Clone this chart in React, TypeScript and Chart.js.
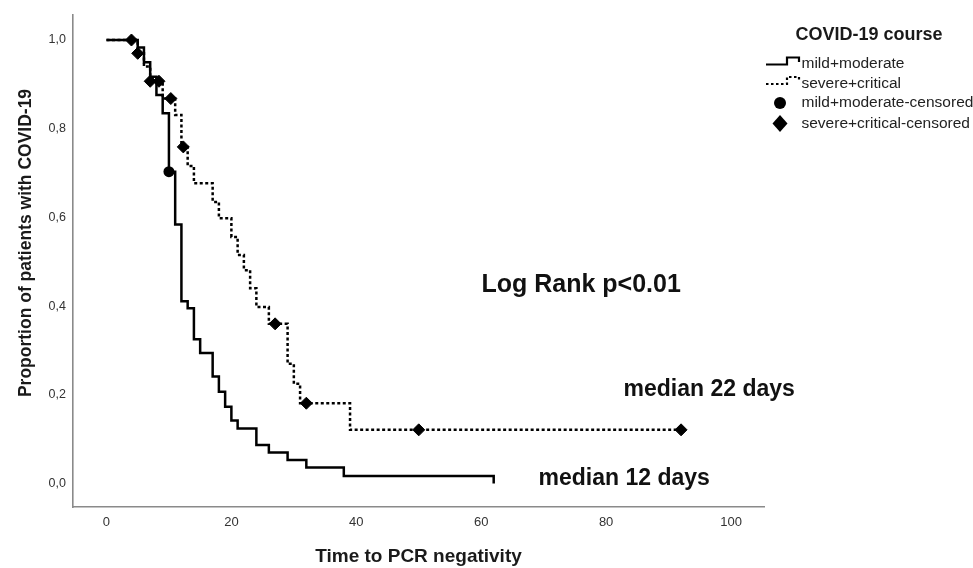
import React, { useEffect, useRef } from 'react';
import { Chart, registerables } from 'chart.js';

Chart.register(...registerables);

// ---- data ----
const mildTimes = [0, 5, 6, 7, 8, 9, 10, 11, 12, 13, 14, 15, 17, 18, 19, 20, 21, 24, 26, 29, 32, 38, 62];
const mildSurvival = [1.0, 0.983, 0.95, 0.917, 0.876, 0.835, 0.703, 0.584, 0.411, 0.395, 0.325, 0.294, 0.241, 0.207, 0.173, 0.142, 0.124, 0.087, 0.07, 0.053, 0.036, 0.017, 0.0];
const mildCensorTimes = [10];
const mildCensorSurvival = [0.703];

const severeTimes = [0, 5, 6, 7, 9, 11, 12, 13, 14, 17, 18, 20, 21, 22, 23, 24, 26, 29, 30, 31, 39, 92];
const severeSurvival = [1.0, 0.97, 0.94, 0.907, 0.868, 0.831, 0.759, 0.716, 0.677, 0.635, 0.598, 0.556, 0.515, 0.481, 0.44, 0.398, 0.36, 0.27, 0.225, 0.181, 0.121, 0.121];
const severeCensorTimes = [4, 5, 7, 8.4, 10.3, 12.3, 27, 32, 50, 92];
const severeCensorSurvival = [1.0, 0.97, 0.907, 0.907, 0.868, 0.759, 0.36, 0.181, 0.121, 0.121];

const xTicks = [0, 20, 40, 60, 80, 100];
const yTicks = [0, 0.2, 0.4, 0.6, 0.8, 1.0];
const yTickLabels = ['0,0', '0,2', '0,4', '0,6', '0,8', '1,0'];

const legendTitle = 'COVID-19 course';
const legendLabels = ['mild+moderate', 'severe+critical', 'mild+moderate-censored', 'severe+critical-censored'];
const xTitle = 'Time to PCR negativity';
const yTitle = 'Proportion of patients with COVID-19';
const logRankText = 'Log Rank p<0.01';
const medianSevereText = 'median 22 days';
const medianMildText = 'median 12 days';

const FONT = '"Liberation Sans", Arial, Helvetica, sans-serif';

const toPoints = (xs: number[], ys: number[]) => xs.map((x, i) => ({ x, y: ys[i] }));

const overlayPlugin = {
  id: 'overlay',
  afterDraw(chart: any) {
    const ctx = chart.ctx as CanvasRenderingContext2D;
    ctx.save();
    // Y axis title (custom placement)
    ctx.save();
    ctx.translate(26.5, 243);
    ctx.rotate(-Math.PI / 2);
    ctx.font = `bold 17.5px ${FONT}`;
    ctx.fillStyle = '#1a1a1a';
    ctx.textAlign = 'center';
    ctx.textBaseline = 'middle';
    ctx.fillText(yTitle, 0, 0);
    ctx.restore();

    // annotations
    ctx.fillStyle = '#111';
    ctx.textAlign = 'left';
    ctx.textBaseline = 'middle';
    ctx.font = `bold 25px ${FONT}`;
    ctx.fillText(logRankText, 481.5, 285);
    ctx.font = `bold 23px ${FONT}`;
    ctx.fillText(medianSevereText, 623.5, 390);
    ctx.fillText(medianMildText, 538.5, 479);

    // legend
    ctx.fillStyle = '#1a1a1a';
    ctx.textAlign = 'center';
    ctx.font = `bold 18px ${FONT}`;
    ctx.fillText(legendTitle, 869, 35);

    const rows = [64, 83.5, 103, 123.5];
    ctx.textAlign = 'left';
    ctx.font = `15.5px ${FONT}`;
    ctx.fillStyle = '#222';
    legendLabels.forEach((t, i) => ctx.fillText(t, 801.5, rows[i]));

    ctx.strokeStyle = '#000';
    ctx.lineWidth = 2.2;
    // solid step icon
    ctx.setLineDash([]);
    ctx.beginPath();
    ctx.moveTo(766, rows[0] + 0.5);
    ctx.lineTo(787, rows[0] + 0.5);
    ctx.lineTo(787, rows[0] - 6.5);
    ctx.lineTo(799, rows[0] - 6.5);
    ctx.lineTo(799, rows[0] - 2);
    ctx.stroke();
    // dotted step icon
    ctx.setLineDash([2.5, 2.5]);
    ctx.beginPath();
    ctx.moveTo(766, rows[1] + 0.5);
    ctx.lineTo(787, rows[1] + 0.5);
    ctx.lineTo(787, rows[1] - 6.5);
    ctx.lineTo(799, rows[1] - 6.5);
    ctx.lineTo(799, rows[1] - 2);
    ctx.stroke();
    ctx.setLineDash([]);
    // circle icon
    ctx.fillStyle = '#000';
    ctx.beginPath();
    ctx.arc(780, rows[2], 6, 0, Math.PI * 2);
    ctx.fill();
    // diamond icon
    ctx.beginPath();
    ctx.moveTo(780, rows[3] - 8.5);
    ctx.lineTo(787.5, rows[3]);
    ctx.lineTo(780, rows[3] + 8.5);
    ctx.lineTo(772.5, rows[3]);
    ctx.closePath();
    ctx.fill();
    ctx.restore();
  },
};

export default function App() {
  const canvasRef = useRef<HTMLCanvasElement | null>(null);

  useEffect(() => {
    document.body.style.margin = '0';
    const canvas = canvasRef.current;
    if (!canvas) return;
    const chart = new Chart(canvas, {
      type: 'line',
      data: {
        datasets: [
          {
            label: legendLabels[0],
            data: toPoints(mildTimes, mildSurvival),
            stepped: 'before',
            borderColor: '#000',
            borderWidth: 2.5,
            pointRadius: 0,
            fill: false,
            order: 2,
          },
          {
            label: legendLabels[1],
            data: toPoints(severeTimes, severeSurvival),
            stepped: 'before',
            borderColor: '#000',
            borderWidth: 2.5,
            borderDash: [3, 2.5],
            pointRadius: 0,
            fill: false,
            order: 2,
          },
          {
            label: legendLabels[2],
            data: toPoints(mildCensorTimes, mildCensorSurvival),
            showLine: false,
            pointStyle: 'circle',
            pointRadius: 5.5,
            pointBackgroundColor: '#000',
            pointBorderColor: '#000',
            pointBorderWidth: 0,
            order: 0,
          },
          {
            label: legendLabels[3],
            data: toPoints(severeCensorTimes, severeCensorSurvival),
            showLine: false,
            pointStyle: 'rectRot',
            pointRadius: 6,
            pointBackgroundColor: '#000',
            pointBorderColor: '#000',
            pointBorderWidth: 1,
            order: 0,
          },
        ],
      },
      options: {
        responsive: false,
        animation: false,
        devicePixelRatio: 1,
        layout: { padding: { top: 15, right: 209, left: 0, bottom: 0 } },
        plugins: {
          legend: { display: false },
          tooltip: { enabled: false },
        },
        scales: {
          x: {
            type: 'linear',
            min: -5.36,
            max: 105.28,
            grid: { display: false, drawTicks: false },
            border: { display: true, color: '#8a8a8a', width: 1.6 },
            afterBuildTicks: (s: any) => {
              s.ticks = xTicks.map((v) => ({ value: v }));
            },
            afterFit: (s: any) => {
              s.height = 61;
            },
            ticks: {
              padding: 8,
              color: '#333',
              font: { family: FONT, size: 13 },
              callback: (v: any) => String(v),
            },
            title: {
              display: true,
              text: xTitle,
              color: '#1a1a1a',
              font: { family: FONT, size: 19, weight: 'bold', lineHeight: 1.2 },
              padding: { top: 0, bottom: 0 },
            },
          },
          y: {
            type: 'linear',
            min: -0.053,
            max: 1.0564,
            grid: { display: false, drawTicks: false },
            border: { display: true, color: '#8a8a8a', width: 1.6 },
            afterBuildTicks: (s: any) => {
              s.ticks = yTicks.map((v) => ({ value: v }));
            },
            afterFit: (s: any) => {
              s.width = 73;
            },
            ticks: {
              padding: 7,
              color: '#333',
              font: { family: FONT, size: 12.5 },
              callback: (v: any) => {
                const i = yTicks.findIndex((t) => Math.abs(t - v) < 1e-6);
                return i >= 0 ? yTickLabels[i] : '';
              },
            },
          },
        },
      },
      plugins: [overlayPlugin],
    } as any);
    return () => chart.destroy();
  }, []);

  return (
    <div style={{ width: 973, height: 568, background: '#fff' }}>
      <canvas ref={canvasRef} width={973} height={568} style={{ display: 'block' }} />
    </div>
  );
}
